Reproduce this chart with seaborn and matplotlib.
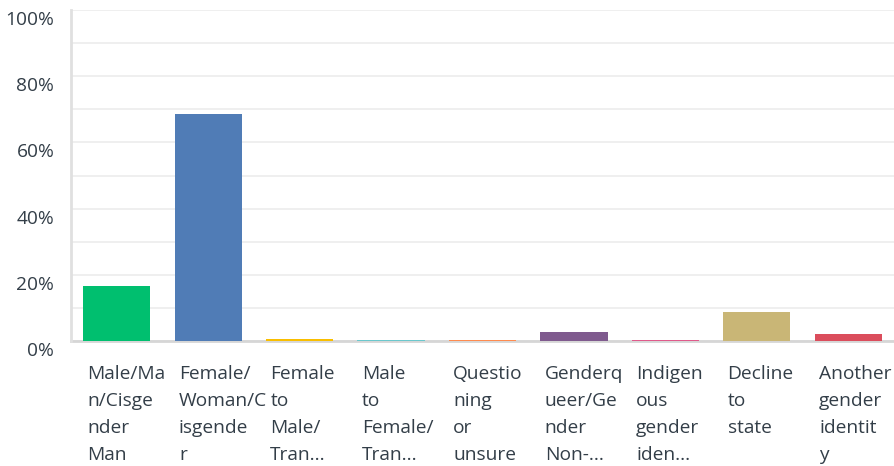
import numpy as np
import pandas as pd
import matplotlib
matplotlib.use("Agg")
import matplotlib.pyplot as plt
import matplotlib.transforms as mtransforms
import seaborn as sns

# Survey answer options (as displayed, wrapped + truncated like the source)
categories = [
    "Male/Man/Cisgender Man",
    "Female/Woman/Cisgender",
    "Female to Male/Transgender Man",
    "Male to Female/Transgender Woman",
    "Questioning or unsure",
    "Genderqueer/Gender Non-conforming",
    "Indigenous gender identity",
    "Decline to state",
    "Another gender identity",
]
display_labels = [
    "Male/Ma\nn/Cisge\nnder\nMan",
    "Female/\nWoman/C\nisgende\nr",
    "Female\nto\nMale/\nTran...",
    "Male\nto\nFemale/\nTran...",
    "Questio\nning\nor\nunsure",
    "Genderq\nueer/Ge\nnder\nNon-...",
    "Indigen\nous\ngender\niden...",
    "Decline\nto\nstate",
    "Another\ngender\nidentit\ny",
]
percent = [16.6, 68.6, 0.6, 0.3, 0.3, 2.7, 0.3, 8.8, 2.1]
bar_colors = ["#00bf6f", "#507cb6", "#f9be00", "#6bc8cd", "#ff8b4f",
              "#7f5a8e", "#e05a8b", "#c9b676", "#db4d5c"]

df = pd.DataFrame({"answer": categories, "pct": percent})

sns.set_theme(style="white")
plt.rcParams["font.family"] = ["Open Sans", "DejaVu Sans"]
text_color = "#333e48"

fig = plt.figure(figsize=(8.95, 4.66), dpi=100)
ax = fig.add_axes([71 / 895, 1 - 341 / 466, (894 - 71) / 895, 331 / 466])

sns.barplot(data=df, x="answer", y="pct", hue="answer", palette=bar_colors,
            width=0.734, legend=False, ax=ax, saturation=1, linewidth=0)
for p in ax.patches:
    p.set_zorder(3)

ax.set_ylim(0, 100)
ax.set_xlim(-0.5, len(categories) - 0.5)
ax.set_yticks(np.arange(0, 101, 20))
ax.set_yticks(np.arange(0, 101, 10), minor=True)
ax.set_yticklabels([f"{v}%" for v in range(0, 101, 20)], fontsize=13.8, color=text_color)
ax.grid(axis="y", which="both", color="#ececec", linewidth=1.2)
ax.set_axisbelow(True)
ax.tick_params(axis="y", which="both", length=0, pad=12)
ax.tick_params(axis="x", length=0)
ax.set_xticks([])
ax.set_xlabel("")
ax.set_ylabel("")

# y labels sit a little below their gridlines
shift = mtransforms.ScaledTranslation(0, -8 / 100, fig.dpi_scale_trans)
for lbl in ax.get_yticklabels():
    lbl.set_transform(lbl.get_transform() + shift)

for side in ["top", "right"]:
    ax.spines[side].set_visible(False)
ax.spines["left"].set_color("#e0e0e0")
ax.spines["left"].set_linewidth(2)
ax.spines["bottom"].set_color("#d6d6d6")
ax.spines["bottom"].set_linewidth(2)
ax.spines["bottom"].set_zorder(2)

# category labels, left aligned under each bar
trans = mtransforms.blended_transform_factory(ax.transData, ax.transAxes)
for i, lab in enumerate(display_labels):
    ax.text(i - 0.32, -0.072, lab, transform=trans, ha="left", va="top",
            fontsize=13.8, color=text_color, linespacing=1.64)

fig.savefig("out.png", dpi=100)
